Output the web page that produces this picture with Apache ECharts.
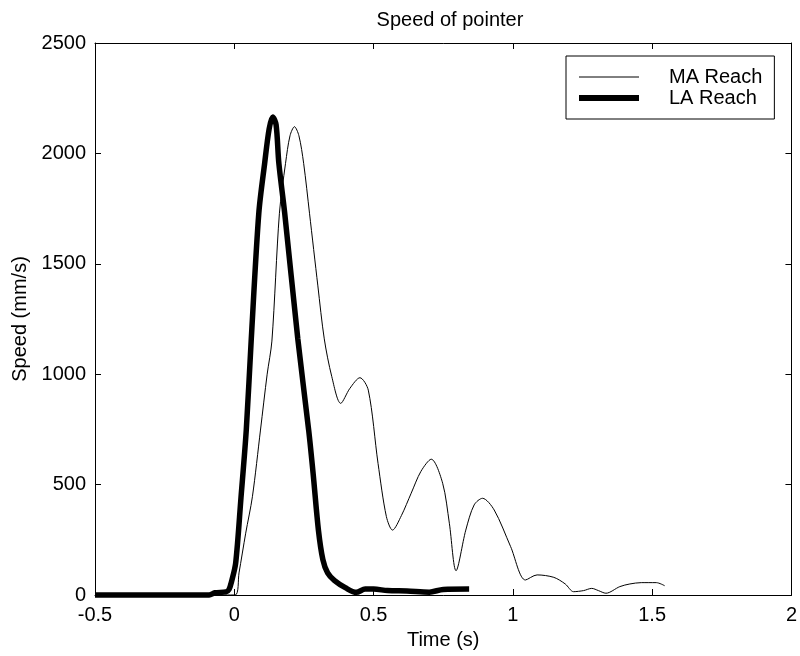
<!DOCTYPE html>
<html>
<head>
<meta charset="utf-8">
<script src="https://cdn.jsdelivr.net/npm/echarts@6/dist/echarts.min.js"></script>
<style>html,body{margin:0;padding:0;background:#fff}#c{width:800px;height:656px}</style>
</head>
<body>
<div id="c"></div>
<script>
// ---- data ----
var titleText = 'Speed of pointer';
var xName = 'Time (s)';
var yName = 'Speed (mm/s)';
var seriesNames = ['MA Reach', 'LA Reach'];
var xTicks = [-0.5, 0, 0.5, 1, 1.5, 2];
var yTicks = [0, 500, 1000, 1500, 2000, 2500];

var maTime  = [-0.5, -0.2, 0.003, 0.017, 0.041, 0.065, 0.094, 0.118, 0.135, 0.162, 0.184, 0.200, 0.216, 0.232, 0.249, 0.270, 0.300, 0.323, 0.350, 0.382, 0.415, 0.451, 0.481, 0.516, 0.546, 0.568, 0.600, 0.635, 0.670, 0.707, 0.748, 0.772, 0.796, 0.831, 0.861, 0.891, 0.933, 0.992, 1.045, 1.087, 1.147, 1.188, 1.218, 1.254, 1.283, 1.307, 1.334, 1.384, 1.420, 1.461, 1.515, 1.545];
var maSpeed = [0, 0, 0, 100, 280, 445, 747, 1000, 1150, 1729, 1955, 2080, 2121, 2080, 1955, 1729, 1400, 1160, 989, 868, 936, 984, 928, 596, 355, 294, 360, 461, 560, 615, 506, 325, 110, 294, 408, 438, 385, 219, 68, 91, 80, 50, 15, 20, 30, 20, 8, 38, 50, 56, 56, 42];

var laTime  = [-0.5, -0.09, -0.07, -0.03, -0.019, -0.01, 0.005, 0.024, 0.043, 0.061, 0.088, 0.109, 0.125, 0.138, 0.150, 0.160, 0.181, 0.228, 0.267, 0.283, 0.302, 0.318, 0.335, 0.360, 0.400, 0.438, 0.470, 0.500, 0.550, 0.620, 0.700, 0.750, 0.843];
var laSpeed = [0, 0, 10, 14, 25, 60, 145, 440, 747, 1160, 1729, 1955, 2110, 2165, 2130, 1955, 1729, 1160, 747, 550, 294, 160, 100, 65, 32, 12, 27, 27, 20, 18, 13, 25, 27];

function pairs(t, v) { return t.map(function (x, i) { return [x, v[i]]; }); }

var font = "'Liberation Sans', Arial, Helvetica, sans-serif";
var chart = echarts.init(document.getElementById('c'), null, { renderer: 'canvas' });

var axisCommon = {
  axisLine: { show: true, onZero: false, lineStyle: { color: '#000', width: 1 } },
  axisTick: { show: true, inside: true, length: 6, lineStyle: { color: '#000', width: 1 } },
  splitLine: { show: false }
};
function plain(v) { return String(v); }
var hiddenSymbol = { color: 'rgba(0,0,0,0)', opacity: 0, borderWidth: 0 };

chart.setOption({
  animation: false,
  backgroundColor: '#fff',
  title: {
    text: titleText, left: 445, top: 5, textAlign: 'center',
    textStyle: { fontFamily: font, fontSize: 20, fontWeight: 'normal', color: '#000' }
  },
  grid: { left: 95, right: 4, top: 43, bottom: 61, containLabel: false },
  legend: {
    orient: 'vertical', left: 566, top: 56,
    padding: [11, 12, 11, 10],
    itemWidth: 60, itemHeight: 14, itemGap: 1,
    borderColor: '#000', borderWidth: 1, backgroundColor: '#fff',
    textStyle: { fontFamily: font, fontSize: 20, color: '#000', padding: [0, 0, 0, 25] },
    data: [
      { name: seriesNames[0], lineStyle: { width: 1, color: '#000' }, itemStyle: hiddenSymbol },
      { name: seriesNames[1], lineStyle: { width: 6, color: '#000' }, itemStyle: hiddenSymbol }
    ]
  },
  xAxis: [
    Object.assign({
      type: 'value', position: 'bottom', min: xTicks[0], max: xTicks[xTicks.length - 1], interval: 0.5,
      name: xName, nameLocation: 'middle', nameGap: 35,
      nameTextStyle: { fontFamily: font, fontSize: 20, color: '#000' },
      axisLabel: { show: true, margin: 10, fontFamily: font, fontSize: 20, color: '#000', formatter: plain }
    }, axisCommon),
    Object.assign({
      type: 'value', position: 'top', min: xTicks[0], max: xTicks[xTicks.length - 1], interval: 0.5,
      axisLabel: { show: false }
    }, axisCommon)
  ],
  yAxis: [
    Object.assign({
      type: 'value', position: 'left', min: yTicks[0], max: yTicks[yTicks.length - 1], interval: 500,
      name: yName, nameLocation: 'middle', nameGap: 53,
      nameTextStyle: { fontFamily: font, fontSize: 20, color: '#000' },
      axisLabel: { show: true, margin: 9, fontFamily: font, fontSize: 20, color: '#000', formatter: plain }
    }, axisCommon),
    Object.assign({
      type: 'value', position: 'right', min: yTicks[0], max: yTicks[yTicks.length - 1], interval: 500,
      axisLabel: { show: false }
    }, axisCommon)
  ],
  series: [
    {
      name: seriesNames[0], type: 'line', data: pairs(maTime, maSpeed),
      symbol: 'none', smooth: 0.3, clip: false,
      lineStyle: { color: '#000', width: 1 }, itemStyle: { color: '#000' }
    },
    {
      name: seriesNames[1], type: 'line', data: pairs(laTime, laSpeed),
      symbol: 'none', smooth: 0.3, clip: false,
      lineStyle: { color: '#000', width: 5.5 }, itemStyle: { color: '#000' }
    }
  ]
});
</script>
</body>
</html>
